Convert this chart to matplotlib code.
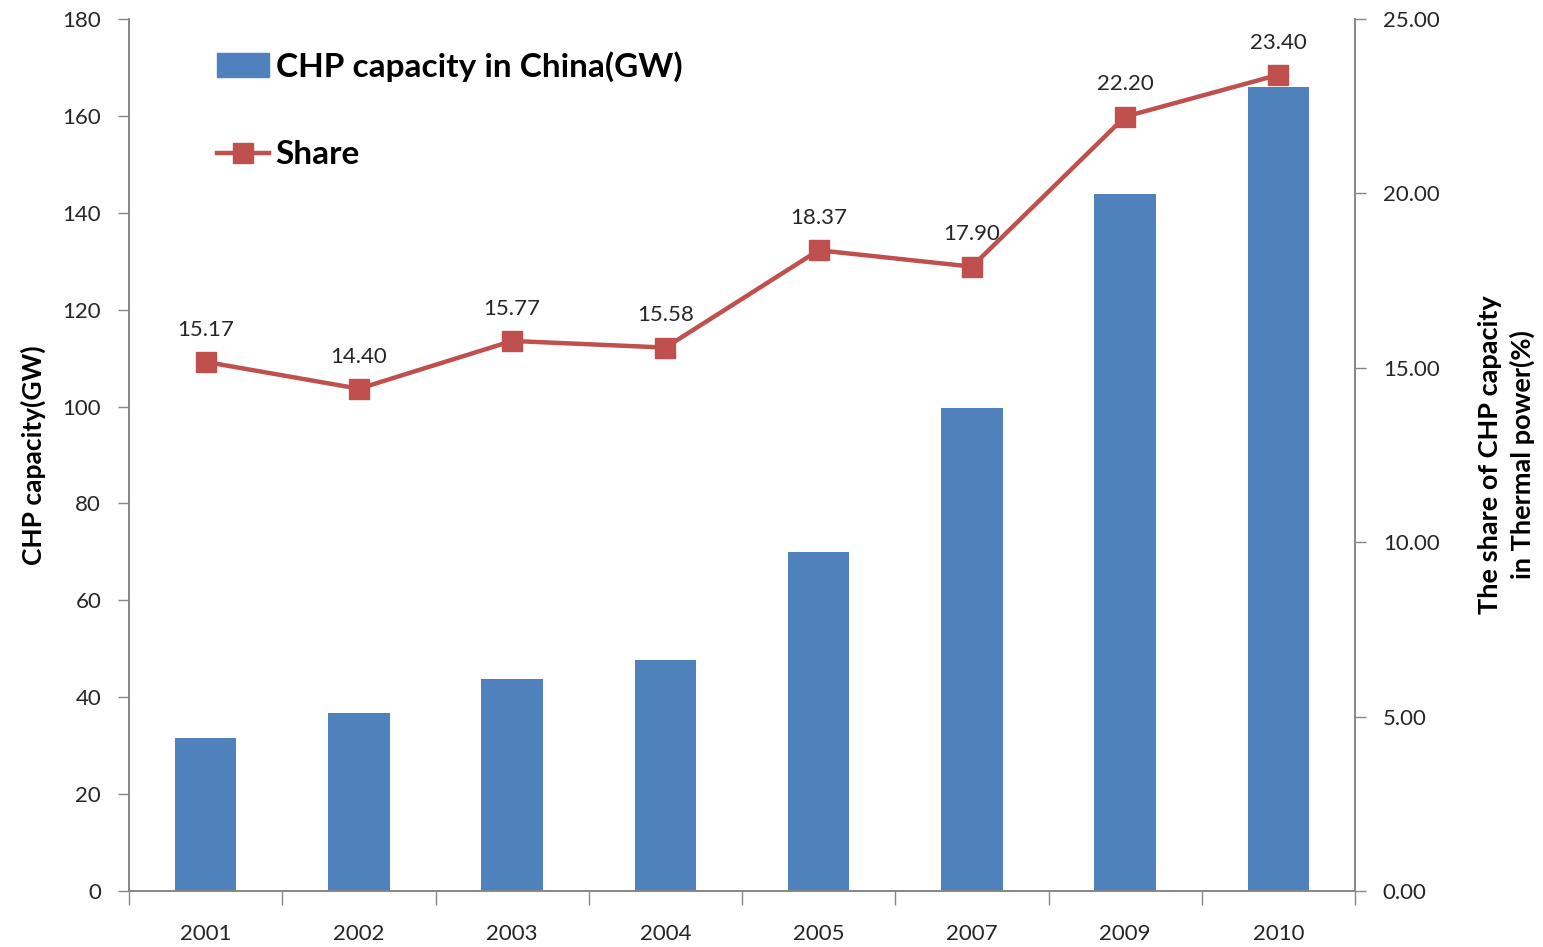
import matplotlib
matplotlib.use("Agg")
import matplotlib.pyplot as plt
from matplotlib.ticker import FixedLocator, FormatStrFormatter, NullFormatter
from matplotlib.lines import Line2D
from matplotlib.patches import Patch
import numpy as np

years = ["2001", "2002", "2003", "2004", "2005", "2007", "2009", "2010"]
capacity_gw = [31.6, 36.7, 43.8, 47.7, 70.0, 99.7, 143.9, 166.0]
share_pct = [15.17, 14.40, 15.77, 15.58, 18.37, 17.90, 22.20, 23.40]

bar_color = "#4F81BD"
line_color = "#C0504D"
axis_gray = "#868686"
text_color = "#262626"

plt.rcParams["font.family"] = ["Lato", "DejaVu Sans"]

fig = plt.figure(figsize=(15.43, 9.47), dpi=100)
ax = fig.add_axes([129 / 1543, 56 / 947, (1355 - 129) / 1543, (891 - 19) / 947])
ax2 = ax.twinx()

x = np.arange(len(years))
ax.bar(x, capacity_gw, width=0.4, color=bar_color, zorder=2)

ax2.plot(x, share_pct, color=line_color, lw=3.2, marker="s", markersize=14,
         markerfacecolor=line_color, markeredgecolor=line_color, zorder=3)
for xi, v in zip(x, share_pct):
    ax2.annotate(f"{v:.2f}", (xi, v), xytext=(0, 16), textcoords="offset points",
                 ha="center", va="bottom", fontsize=16, color=text_color)

ax.set_xlim(-0.5, len(years) - 0.5)
ax.set_ylim(0, 180)
ax2.set_ylim(0, 25)
ax.set_yticks(np.arange(0, 181, 20))
ax2.set_yticks(np.arange(0, 25.1, 5))
ax2.yaxis.set_major_formatter(FormatStrFormatter("%.2f"))

# category labels at centres, tick marks at boundaries
ax.xaxis.set_major_locator(FixedLocator(np.arange(-0.5, len(years), 1.0)))
ax.xaxis.set_major_formatter(NullFormatter())
ax.xaxis.set_minor_locator(FixedLocator(x))
ax.set_xticklabels(years, minor=True)
ax.tick_params(axis="x", which="minor", length=0, pad=24, labelsize=16, labelcolor=text_color)
ax.tick_params(axis="x", which="major", length=10, width=1, color=axis_gray)

ax.tick_params(axis="y", length=8, width=1, color=axis_gray, labelsize=16,
               labelcolor=text_color, pad=12)
ax2.tick_params(axis="y", length=8, width=1, color=axis_gray, labelsize=16,
                labelcolor=text_color, pad=12)

for a in (ax, ax2):
    a.spines["top"].set_visible(False)
    for s in ("left", "right", "bottom"):
        a.spines[s].set_color(axis_gray)
        a.spines[s].set_linewidth(1.2)

ax.set_ylabel("CHP capacity(GW)", fontsize=19, fontweight="bold", labelpad=12, color="black")
ax2.set_ylabel("The share of CHP capacity\nin Thermal power(%)", fontsize=19.5,
               fontweight="bold", labelpad=28, color="black", linespacing=1.35)

handles = [Patch(facecolor=bar_color, edgecolor=bar_color),
           Line2D([], [], color=line_color, lw=3.2, marker="s", markersize=14)]
leg = ax.legend(handles, ["CHP capacity in China(GW)", "Share"], loc="upper left",
                bbox_to_anchor=(0.053, 0.99), frameon=False, handlelength=1.55,
                handleheight=0.7, handletextpad=0.2, labelspacing=1.75,
                borderaxespad=0.3, prop={"size": 24, "weight": "bold"})

fig.savefig("out.png", dpi=100)
